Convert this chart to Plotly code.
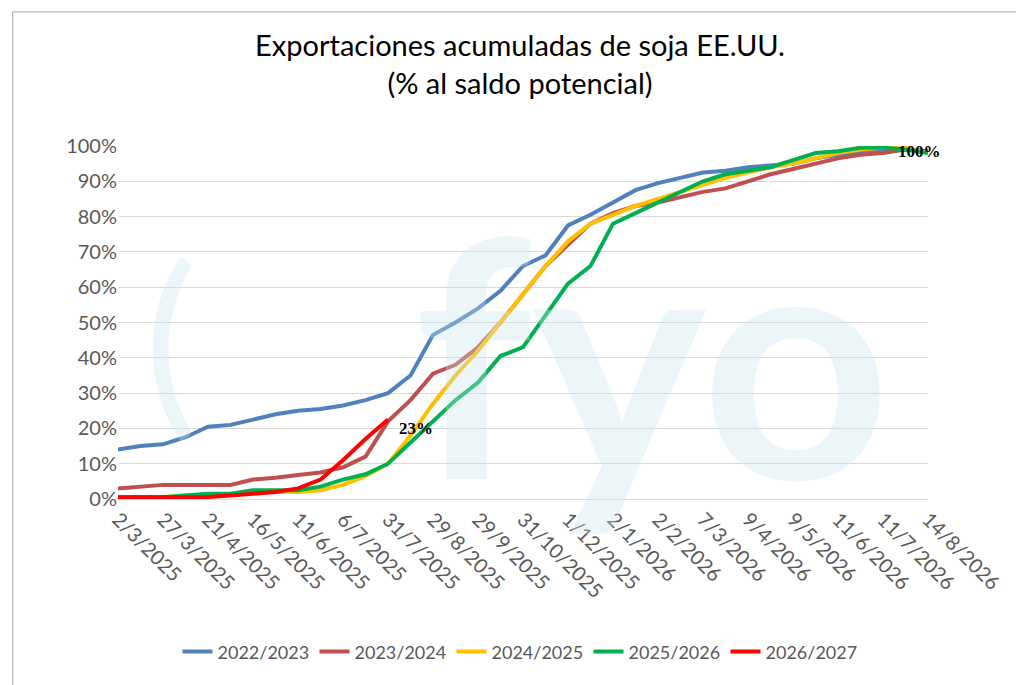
import plotly.graph_objects as go

tick_labels = ["2/3/2025", "27/3/2025", "21/4/2025", "16/5/2025", "11/6/2025", "6/7/2025",
               "31/7/2025", "29/8/2025", "29/9/2025", "31/10/2025", "1/12/2025", "2/1/2026",
               "2/2/2026", "7/3/2026", "9/4/2026", "9/5/2026", "11/6/2026", "11/7/2026", "14/8/2026"]

s_2223 = [14, 15, 15.5, 17.5, 20.5, 21, 22.5, 24, 25, 25.5, 26.5, 28, 30, 35, 46.5, 50, 54, 59, 66,
          69, 77.5, 80.5, 84, 87.5, 89.5, 91, 92.5, 93, 94, 94.5, 95, 96.5, 97.5, 98.5, 99, 99, 98.5]
s_2324 = [3, 3.5, 4, 4, 4, 4, 5.5, 6, 6.8, 7.5, 9, 12, 22, 28, 35.5, 38, 43, 50, 58,
          66, 72, 78, 81, 83, 84, 85.5, 87, 88, 90, 92, 93.5, 95, 96.5, 97.5, 98, 99, 98.5]
s_2425 = [0.5, 0.5, 0.6, 1, 1.2, 1.5, 2, 2, 2, 2.5, 4, 6.5, 10, 18, 27, 35, 42, 50, 58,
          66, 73, 78, 80.5, 83, 85, 87, 89, 91, 92.5, 94, 95, 96.5, 98, 99, 99.5, 99.5, 98]
s_2526 = [0.5, 0.5, 0.5, 1, 1.5, 1.5, 2.5, 2.5, 2.5, 3.5, 5.5, 7, 10, 16, 22, 28, 33, 40.5, 43,
          52, 61, 66, 78, 81, 84, 87, 90, 92, 93, 94, 96, 98, 98.5, 99.5, 99.5, 99, 98]
s_2627 = [0.5, 0.5, 0.5, 0.5, 0.6, 1, 1.5, 2, 3, 5.5, 11, 17, 22.5]

series = [("2022/2023", s_2223, "#4F81BD"), ("2023/2024", s_2324, "#C0504D"),
          ("2024/2025", s_2425, "#FFC000"), ("2025/2026", s_2526, "#00B050"),
          ("2026/2027", s_2627, "#FF0000")]

fig = go.Figure()
# watermark
fig.add_annotation(x=0.66, y=0.42, xref="paper", yref="paper", text="<b>fyo</b>",
                   showarrow=False, font=dict(size=330, color="rgba(200,228,235,0.35)",
                                              family="Lato"))
fig.add_annotation(x=0.03, y=0.12, xref="paper", yref="paper", text="(",
                   showarrow=False, font=dict(size=200, color="rgba(200,228,235,0.35)",
                                              family="Lato"))
for name, vals, col in series:
    fig.add_trace(go.Scatter(x=list(range(len(vals))), y=vals, name=name, mode="lines",
                             line=dict(color=col, width=4)))

fig.add_annotation(x=12.4, y=20, text="<b>23%</b>", showarrow=False, xanchor="left",
                   yanchor="middle", font=dict(size=17, color="black", family="Liberation Serif"))
fig.add_annotation(x=35.6, y=98.5, text="<b>100%</b>", showarrow=False, xanchor="center",
                   font=dict(size=17, color="black", family="Liberation Serif"))

fig.update_layout(
    width=1024, height=685, paper_bgcolor="white", plot_bgcolor="white",
    font=dict(family="Lato", color="#595959"),
    title=dict(text="Exportaciones acumuladas de soja EE.UU.<br>(% al saldo potencial)",
               x=0.5, xanchor="center", y=0.93, font=dict(size=29, color="black")),
    margin=dict(l=110, r=104, t=138, b=194),
    showlegend=True,
    legend=dict(orientation="h", xref="container", yref="container", x=0.5, xanchor="center",
                y=0.06, yanchor="middle",
                font=dict(size=18), entrywidth=92, entrywidthmode="pixels"),
    xaxis=dict(tickmode="array", tickvals=list(range(0, 37, 2)), ticktext=tick_labels,
               tickangle=45, tickfont=dict(size=20), range=[0, 36], showgrid=False,
               showline=True, linecolor="#d9d9d9"),
    yaxis=dict(range=[0, 100], dtick=10, ticksuffix="%", tickfont=dict(size=20),
               gridcolor="#d9d9d9", zeroline=False),
)
fig.add_shape(type="rect", xref="paper", yref="paper", x0=-0.13, y0=-0.54, x1=1.122, y1=1.38,
              line=dict(color="#a6a6a6", width=1))
fig.write_html("out.html")
